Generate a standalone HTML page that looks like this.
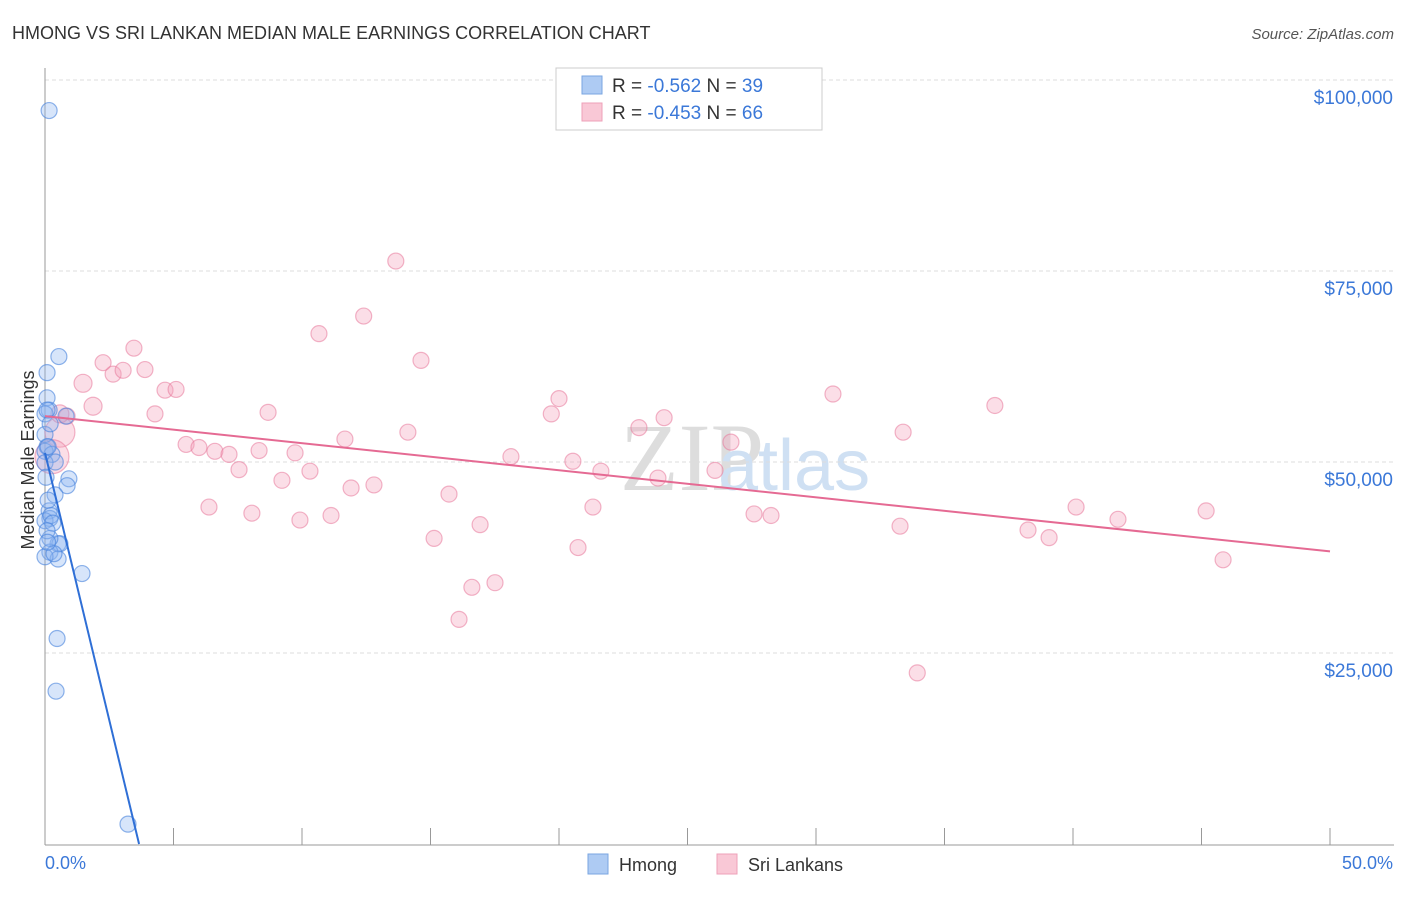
<!DOCTYPE html>
<html><head><meta charset="utf-8"><style>
body{margin:0;background:#fff;font-family:"Liberation Sans",sans-serif}
</style></head><body>
<svg width="1406" height="892" xmlns="http://www.w3.org/2000/svg">
<text x="12" y="39" font-size="18" fill="#333">HMONG VS SRI LANKAN MEDIAN MALE EARNINGS CORRELATION CHART</text>
<text x="1394" y="39" font-size="15" fill="#555" font-style="italic" text-anchor="end">Source: ZipAtlas.com</text>
<text x="620" y="490" font-size="96" fill="#ddd" font-family="Liberation Serif">ZIP</text>
<text x="718" y="490" font-size="72" fill="#cfe0f3">atlas</text>
<g id="grid"></g>
<line x1="45" y1="68" x2="45" y2="845" stroke="#999"/>
<line x1="45" y1="845" x2="1394" y2="845" stroke="#999"/>
<text x="34" y="460" font-size="18" fill="#333" text-anchor="middle" transform="rotate(-90 34 460)">Median Male Earnings</text>
<text x="45" y="869" font-size="18" fill="#3b78d8">0.0%</text>
<text x="1393" y="869" font-size="18" fill="#3b78d8" text-anchor="end">50.0%</text>
<g id="pink"></g><g id="blue"></g><g id="lines"></g>
<g>
<rect x="556" y="68" width="266" height="62" fill="#fff" stroke="#ccc"/>
<rect x="582" y="76" width="20" height="18" fill="#aecbf3" stroke="#7aa6e0"/>
<text x="612" y="92" font-size="19" fill="#333">R = <tspan fill="#3b78d8">-0.562</tspan>   N = <tspan fill="#3b78d8">39</tspan></text>
<rect x="582" y="103" width="20" height="18" fill="#f9c8d6" stroke="#eea0b8"/>
<text x="612" y="119" font-size="19" fill="#333">R = <tspan fill="#3b78d8">-0.453</tspan>   N = <tspan fill="#3b78d8">66</tspan></text>
</g>
<g>
<rect x="588" y="854" width="20" height="20" fill="#aecbf3" stroke="#7aa6e0"/>
<text x="619" y="871" font-size="18" fill="#333">Hmong</text>
<rect x="717" y="854" width="20" height="20" fill="#f9c8d6" stroke="#eea0b8"/>
<text x="748" y="871" font-size="18" fill="#333">Sri Lankans</text>
</g>
</svg>
<script>
const yTicks=[25000,50000,75000,100000];
const yTickLabels=["$25,000","$50,000","$75,000","$100,000"];
const xTicks=[0,5,10,15,20,25,30,35,40,45,50];
const pinkX=[13.65,12.4,10.66,14.63,3.46,2.26,2.65,3.04,3.89,1.48,4.67,5.1,1.87,0.86,4.28,8.68,20,19.7,30.66,36.96,24.09,23.11,26.69,33.39,14.12,11.67,5.49,5.99,6.61,7.16,8.33,9.73,18.13,20.54,21.63,26.07,23.85,7.55,10.31,9.22,12.8,11.91,15.72,21.32,6.38,8.05,9.92,11.13,16.93,15.14,20.74,27.59,28.25,33.27,40.12,41.75,45.18,38.25,39.07,45.84,17.51,16.61,16.11,33.94,0.58,0.27,0.58];
const pinkY=[76.3,69.1,66.8,63.3,64.9,63,61.5,62,62.1,60.3,59.4,59.5,57.3,56,56.3,56.5,58.3,56.3,58.9,57.4,55.8,54.5,52.6,53.9,53.9,53,52.3,51.9,51.4,51,51.5,51.2,50.7,50.1,48.8,48.9,47.9,49,48.8,47.6,47,46.6,45.8,44.1,44.1,43.3,42.4,43,41.8,40,38.8,43.2,43,41.6,44.1,42.5,43.6,41.1,40.1,37.2,34.2,33.6,29.4,22.4,53.9,50.7,56.3];
const pinkR=[8,8,8,8,8,8,8,8,8,9,8,8,9,8,8,8,8,8,8,8,8,8,8,8,8,8,8,8,8,8,8,8,8,8,8,8,8,8,8,8,8,8,8,8,8,8,8,8,8,8,8,8,8,8,8,8,8,8,8,8,8,8,8,8,15,17,9];
const blueX=[0.16,0.54,0.08,0.08,0.16,0,0.82,0.08,0,0.27,0,0.93,0.86,0.39,0.16,0.19,0,0.51,0.58,0.19,0.51,0,1.44,0.47,0.43,3.23,0.08,0,0.19,0.04,0.12,0.23,0.3,0.35,0.12,0.4,0.2,0.08,0.1];
const blueY=[96,63.8,61.7,58.4,56.8,56.3,56,52,51.4,51,49.9,47.8,46.9,45.7,43.6,42.6,42.3,39.3,39.3,38.2,37.3,37.6,35.4,26.9,20,2.6,56.8,53.6,40,48,52,43,42,38,45,50,55,41,39.5];
const pinkLine=[[0,56],[50,38.3]];
const blueLine=[[0,51.2],[3.66,0]];
const NS="http://www.w3.org/2000/svg";
const xs=p=>45+p*25.7;
const ys=v=>844-v*1000*0.00764;
function mk(tag,attrs,parent){const e=document.createElementNS(NS,tag);for(const k in attrs)e.setAttribute(k,attrs[k]);parent.appendChild(e);return e;}
const grid=document.getElementById('grid');
yTicks.forEach((t,i)=>{
 const l=mk('line',{x1:45,x2:1394,y1:ys(t/1000),y2:ys(t/1000),stroke:'#ddd','stroke-dasharray':'4,3'},grid);
 
 
 const tx=mk('text',{x:1393,y:ys(t/1000)+24,'font-size':19,fill:'#3b78d8','text-anchor':'end'},grid);
 tx.textContent=yTickLabels[i];
 
 
});
xTicks.forEach(t=>{
 const l=mk('line',{x1:xs(t),x2:xs(t),y1:828,y2:845,stroke:'#999'},grid);
 
 
});
const pg=document.getElementById('pink');
pinkX.forEach((x,i)=>{
 const c=mk('circle',{cx:xs(x),cy:ys(pinkY[i]),r:pinkR[i],fill:'rgba(244,160,186,0.35)',stroke:'rgba(232,120,155,0.55)','stroke-width':1.2},pg);
 
 
});
const bg=document.getElementById('blue');
blueX.forEach((x,i)=>{
 const c=mk('circle',{cx:xs(x),cy:ys(blueY[i]),r:8,fill:'rgba(140,180,240,0.35)',stroke:'rgba(70,130,220,0.6)','stroke-width':1.2},bg);
 
 
});
const lg=document.getElementById('lines');
const pl=mk('line',{x1:xs(pinkLine[0][0]),y1:ys(pinkLine[0][1]),x2:xs(pinkLine[1][0]),y2:ys(pinkLine[1][1]),stroke:'#e56a93','stroke-width':2},lg);


const bl=mk('line',{x1:xs(blueLine[0][0]),y1:ys(blueLine[0][1]),x2:xs(blueLine[1][0]),y2:ys(blueLine[1][1]),stroke:'#2f6fd6','stroke-width':2},lg);


</script>
</body></html>
